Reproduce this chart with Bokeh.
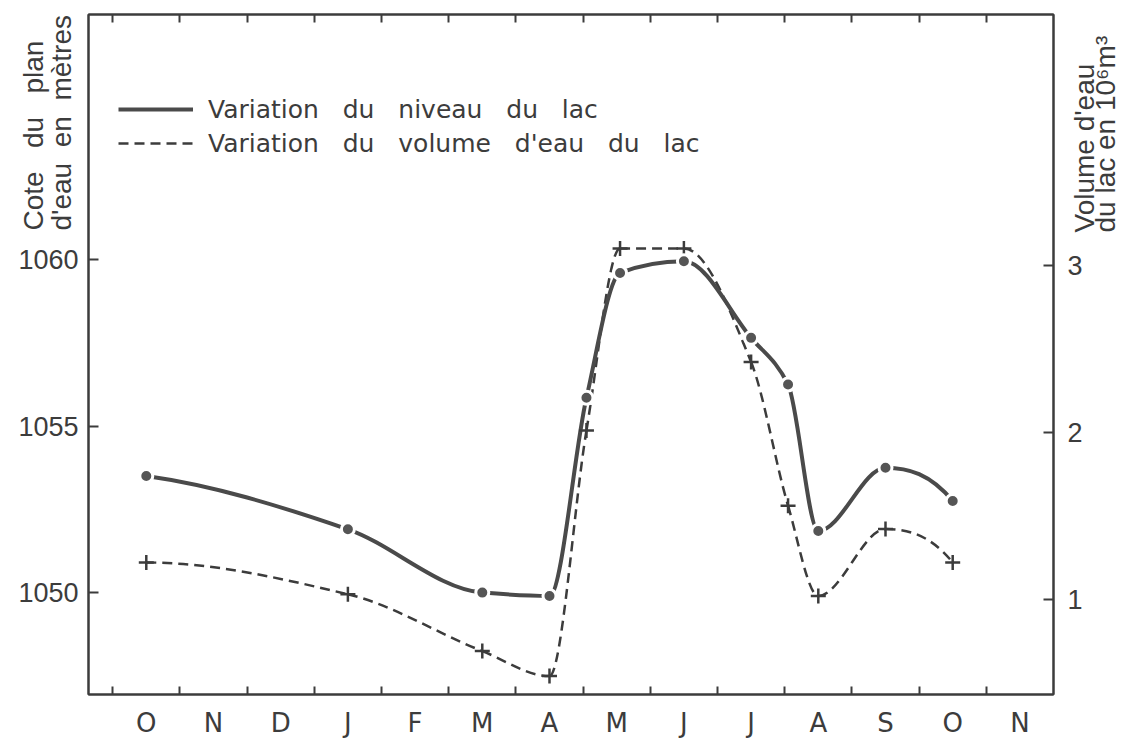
import numpy as np
from bokeh.plotting import figure
from bokeh.models import (Range1d, LinearAxis, FixedTicker, Label,
                          ColumnDataSource, Legend, LegendItem)
from bokeh.embed import file_html
from bokeh.resources import INLINE

# ---------------- data ----------------
month_labels = ["O", "N", "D", "J", "F", "M", "A", "M", "J", "J", "A", "S", "O", "N"]
month_centers = [0.5, 1.5, 2.5, 3.5, 4.5, 5.5, 6.5, 7.5, 8.5, 9.5, 10.5, 11.5, 12.5, 13.5]
month_bounds = [0, 1, 2, 3, 4, 5, 6, 7, 8, 9, 10, 11, 12, 13]

# time of each survey, in months counted from 1 October
survey_time = [0.5, 3.5, 5.5, 6.5, 7.05, 7.55, 8.5, 9.5, 10.05, 10.5, 11.5, 12.5]
# lake level (m)
level_m = [1053.5, 1051.9, 1050.0, 1049.9, 1055.85, 1059.6, 1059.95, 1057.65,
           1056.25, 1051.85, 1053.75, 1052.75]
# lake volume (10^6 m3)
volume_mm3 = [1.22, 1.03, 0.69, 0.54, 2.01, 3.10, 3.10, 2.42, 1.56, 1.02, 1.42, 1.22]

level_ticks = [1050, 1055, 1060]
volume_ticks = [1, 2, 3]

GAP3 = " \u00a0 "   # wide word gap, as in the hand lettering
GAP2 = "\u00a0 "
legend_labels = [GAP3.join(["Variation", "du", "niveau", "du", "lac"]),
                 GAP3.join(["Variation", "du", "volume", "d'eau", "du", "lac"])]

INK = "#3c3c3c"
W, H = 1125, 740


def smooth_segments(xs, ys):
    """Bezier control points (monotone cubic Hermite) through the data points."""
    x = np.asarray(xs, float)
    y = np.asarray(ys, float)
    h = np.diff(x)
    d = np.diff(y) / h
    n = len(x)
    m = np.zeros(n)
    for i in range(1, n - 1):
        if d[i - 1] * d[i] > 0:
            w1 = 2 * h[i] + h[i - 1]
            w2 = h[i] + 2 * h[i - 1]
            m[i] = (w1 + w2) / (w1 / d[i - 1] + w2 / d[i])

    def end_slope(h0, h1, d0, d1):
        s = ((2 * h0 + h1) * d0 - h0 * d1) / (h0 + h1)
        if np.sign(s) != np.sign(d0):
            s = 0.0
        elif np.sign(d0) != np.sign(d1) and abs(s) > abs(3 * d0):
            s = 3 * d0
        return s

    m[0] = end_slope(h[0], h[1], d[0], d[1])
    m[-1] = end_slope(h[-1], h[-2], d[-1], d[-2])
    return dict(
        x0=x[:-1], y0=y[:-1], x1=x[1:], y1=y[1:],
        cx0=x[:-1] + h / 3, cy0=y[:-1] + m[:-1] * h / 3,
        cx1=x[1:] - h / 3, cy1=y[1:] - m[1:] * h / 3,
    )


p = figure(width=W, height=H,
           x_range=Range1d(-0.36, 14.0), y_range=Range1d(1046.94, 1067.36),
           output_backend="svg", toolbar_location=None,
           min_border_left=88, min_border_right=72,
           min_border_top=14, min_border_bottom=46,
           background_fill_color="white", border_fill_color="white")
p.extra_y_ranges = {"vol": Range1d(0.43, 4.50)}
p.xgrid.visible = False
p.ygrid.visible = False
p.outline_line_color = INK
p.outline_line_width = 2

# bottom axis: month letters between ticks at month boundaries (ticks inward)
xa = p.xaxis[0]
xa.ticker = FixedTicker(ticks=month_centers, minor_ticks=month_bounds)
xa.major_label_overrides = {c: t for c, t in zip(month_centers, month_labels)}
xa.major_tick_in = 0
xa.major_tick_out = 0
xa.minor_tick_in = 8
xa.minor_tick_out = 0
xa.minor_tick_line_color = INK
xa.minor_tick_line_width = 2
xa.major_label_standoff = 13
xa.major_label_text_font = "DejaVu Sans"
xa.major_label_text_font_size = "26px"
xa.major_label_text_color = INK
xa.axis_line_color = INK
xa.axis_line_width = 2

# top axis (ticks only)
top = LinearAxis(ticker=FixedTicker(ticks=[], minor_ticks=month_bounds),
                 major_tick_in=0, major_tick_out=0, minor_tick_in=8, minor_tick_out=0,
                 minor_tick_line_color=INK, minor_tick_line_width=2,
                 axis_line_color=INK, axis_line_width=2)
p.add_layout(top, "above")

# left axis
ya = p.yaxis[0]
ya.ticker = FixedTicker(ticks=level_ticks)
ya.major_tick_in = 10
ya.major_tick_out = 0
ya.minor_tick_in = 0
ya.minor_tick_out = 0
ya.major_label_standoff = 10
ya.major_label_text_font = "Liberation Sans"
ya.major_label_text_font_size = "27px"
ya.major_label_text_color = INK
ya.axis_line_color = INK
ya.axis_line_width = 2
ya.major_tick_line_color = INK
ya.major_tick_line_width = 2

# right axis (volume)
ra = LinearAxis(y_range_name="vol", ticker=FixedTicker(ticks=volume_ticks),
                major_tick_in=10, major_tick_out=0, minor_tick_in=0, minor_tick_out=0,
                major_label_standoff=14, major_label_text_font="Liberation Sans",
                major_label_text_font_size="27px", major_label_text_color=INK,
                axis_line_color=INK, axis_line_width=2,
                major_tick_line_color=INK, major_tick_line_width=2)
p.add_layout(ra, "right")

# curves
lev_src = ColumnDataSource(smooth_segments(survey_time, level_m))
vol_src = ColumnDataSource(smooth_segments(survey_time, volume_mm3))
r_vol = p.bezier(x0="x0", y0="y0", x1="x1", y1="y1", cx0="cx0", cy0="cy0", cx1="cx1", cy1="cy1",
                 source=vol_src, y_range_name="vol", line_color=INK, line_width=2.5,
                 line_dash="10 6")
r_lev = p.bezier(x0="x0", y0="y0", x1="x1", y1="y1", cx0="cx0", cy0="cy0", cx1="cx1", cy1="cy1",
                 source=lev_src, line_color="#4a4a4a", line_width=4)

# markers
p.scatter(survey_time, volume_mm3, y_range_name="vol", marker="cross", size=15,
          line_color=INK, line_width=2.5)
p.scatter(survey_time, level_m, marker="circle", size=13, fill_color="#555555",
          line_color="white", line_width=3)

# legend (location = bottom-left corner, frame pixels)
legend = Legend(items=[LegendItem(label=legend_labels[0], renderers=[r_lev]),
                       LegendItem(label=legend_labels[1], renderers=[r_vol])],
                location=(30, 536), orientation="vertical",
                glyph_width=75, glyph_height=30, label_height=30, label_standoff=15,
                spacing=4, padding=0, margin=0,
                border_line_color=None, background_fill_alpha=0,
                label_text_font="DejaVu Sans", label_text_font_size="25px",
                label_text_color=INK)
p.add_layout(legend)

# ---------- overlay canvas for the two rotated axis titles (outside the frame) ----------
q = figure(width=W, height=H, x_range=Range1d(0, W), y_range=Range1d(0, H),
           output_backend="svg", toolbar_location=None,
           x_axis_location=None, y_axis_location=None, min_border=0,
           background_fill_color=None, border_fill_color=None, outline_line_color=None,
           styles={"position": "absolute", "top": "0px", "left": "0px"})
q.grid.visible = False


def title(x, y, text):
    q.add_layout(Label(x=x, y=y, x_units="screen", y_units="screen", text=text,
                       angle=90, angle_units="deg", text_align="left", text_baseline="middle",
                       text_font="Liberation Sans", text_font_size="28px", text_color=INK))


title(33, 510, GAP3.join(["Cote", "du", "plan"]))
title(61, 510, GAP2.join(["d'eau", "en", "mètres"]))
title(1084, 508, "Volume d'eau")
title(1105, 508, "du lac en 10⁶m³")

open("out.html", "w").write(file_html([p, q], INLINE))
